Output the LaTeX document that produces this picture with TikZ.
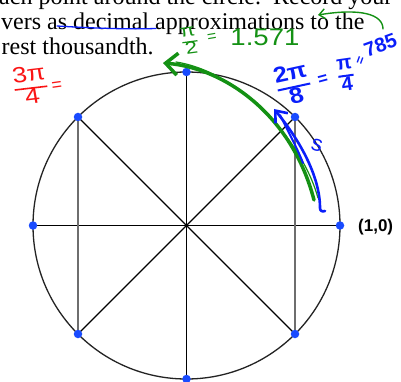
\documentclass[tikz,border=0pt]{standalone}
\usepackage{fontspec}
\setmainfont{Liberation Serif}
\newfontfamily\labelfont{Liberation Sans}
\usetikzlibrary{arrows.meta}
\definecolor{dotblue}{RGB}{25,75,255}
\definecolor{penblue}{RGB}{10,30,250}
\definecolor{pengreen}{RGB}{20,145,20}
\definecolor{penred}{RGB}{250,20,20}
\definecolor{linegray}{RGB}{35,35,35}
\definecolor{chordgray}{RGB}{110,110,110}
\newcommand{\hfrac}[3]{{\renewcommand{\arraystretch}{0.95}\setlength{\arrayrulewidth}{#3}\begin{tabular}{@{}c@{}}#1\\\hline #2\end{tabular}}}
\begin{document}
\begin{tikzpicture}[x=1pt,y=-1pt,
  prose/.style={anchor=base west, inner sep=0pt, font=\fontsize{24}{25}\selectfont},
  dot/.style={circle, fill=dotblue, inner sep=0pt, minimum size=8.5pt},
  ink/.style={line cap=round, line join=round},
  handsf/.style={inner sep=0pt, font=\labelfont\fontsize{#1}{#1}\selectfont},
  handbf/.style={inner sep=0pt, font=\labelfont\bfseries\fontsize{#1}{#1}\selectfont},
  spoke/.style={line width=1.1pt, black},
  chord/.style={line width=1.1pt, chordgray}]
\useasboundingbox (0,0) rectangle (401,382);
\clip (0,0) rectangle (401,382);
\fill[white] (0,0) rectangle (401,382);

% prose
\node[prose] (t1) at (-1,4.5) {ach point around the circle.\ \ Record your};
\node[prose] (t2) at (1,29.3) {vers as decimal approximations to the};
\node[prose] (t3) at (1.5,54.3) {rest thousandth.};

% circle geometry
\coordinate (O) at (186.5,225.5);
\coordinate (c0) at (340,225.5);
\coordinate (c45) at (295,117);
\coordinate (c90) at (186.5,72);
\coordinate (c135) at (78,117);
\coordinate (c180) at (33,225.5);
\coordinate (c225) at (78,334);
\coordinate (c270) at (186.5,379);
\coordinate (c315) at (295,334);

\draw[linegray, line width=1.3pt] (O) circle[radius=153.5];
\draw[spoke] (c180) -- (c0);
\draw[spoke] (c90) -- (c270);
\draw[spoke] (c135) -- (c315);
\draw[spoke] (c45) -- (c225);
\draw[chord] (c135) -- (c225);
\draw[chord] (c45) -- (c315);

\foreach \a in {0,45,90,135,180,225,270,315}
  \node[dot] (d\a) at (c\a) {};

\node[anchor=west, inner sep=0pt, font=\labelfont\bfseries\fontsize{17}{17}\selectfont] (lab) at (358,227) {(1,0)};

% handwriting: blue strike
\draw[penblue, line width=1.3pt, ink] (57,26) .. controls (90,28) and (125,29.5) .. (156,28.5);

% red
\node[handsf=22, penred, xscale=1.2, rotate=8] (r1) at (31,88) {\hfrac{3π}{4}{1.6pt}};
\node[handsf=18, penred, rotate=8] (r2) at (57,86) {=};

% green
\node[handsf=17, pengreen, xscale=1.3, rotate=10] (g1) at (190,42) {\hfrac{π}{2}{1.2pt}};
\node[handsf=16, pengreen, rotate=10] (g2) at (212,38) {=};
\node[handsf=24, pengreen, xscale=1.15] (g3) at (265,37) {1.571};
\draw[pengreen, line width=1.4pt, ink, -{Straight Barb[length=6pt,width=10pt]}] (383,29) .. controls (383,14) and (360,8) .. (318,15);
\draw[pengreen, line width=3.5pt, ink, {Straight Barb[length=12pt,width=22pt]}-] (163,63) .. controls (225,68) and (292,115) .. (314,200);
\draw[pengreen, line width=1.2pt, ink] (176,62) .. controls (240,72) and (302,140) .. (318,198);

% blue
\draw[penblue, line width=2.6pt, ink, {Straight Barb[length=10pt,width=16pt]}-] (274,109) .. controls (298,138) and (320,175) .. (320,208) .. controls (320,211) and (322,212) .. (325,211);
\draw[penblue, line width=2pt, ink] (280,115) .. controls (290,135) and (298,150) .. (303,163);
\node[handsf=22, penblue, rotate=-15] (bs) at (317,145) {s};
\node[handbf=22, penblue, xscale=1.15, rotate=14] (b1) at (294,87) {\hfrac{2π}{8}{2pt}};
\node[handbf=17, penblue, rotate=15] (b2) at (323,80) {=};
\node[handbf=20, penblue, rotate=8] (b3) at (346,76) {\hfrac{π}{4}{2pt}};
\node[handbf=13, penblue, rotate=70] (b4) at (361,61) {=};
\node[handbf=20, penblue, anchor=south west, rotate=20] (b5) at (367,58) {785};
\end{tikzpicture}
\end{document}
